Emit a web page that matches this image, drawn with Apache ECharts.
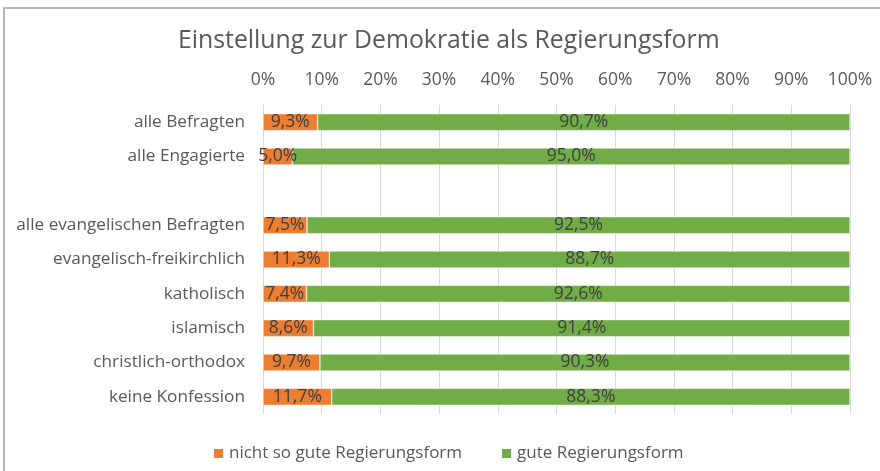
<!DOCTYPE html>
<html><head><meta charset="utf-8">
<script src="https://cdn.jsdelivr.net/npm/echarts@6/dist/echarts.min.js"></script>
<style>html,body{margin:0;padding:0;background:#fff}#c{width:880px;height:471px}</style>
</head><body><div id="c"></div>
<script>
const categories = ["alle Befragten","alle Engagierte","","alle evangelischen Befragten","evangelisch-freikirchlich","katholisch","islamisch","christlich-orthodox","keine Konfession"];
const nichtSoGut = [9.3, 5.0, null, 7.5, 11.3, 7.4, 8.6, 9.7, 11.7];
const gut = [90.7, 95.0, null, 92.5, 88.7, 92.6, 91.4, 90.3, 88.3];
const seriesNames = ["nicht so gute Regierungsform","gute Regierungsform"];
const titleText = "Einstellung zur Demokratie als Regierungsform";

const FONT = "'Open Sans', 'Noto Sans', sans-serif";
const chart = echarts.init(document.getElementById('c'));
const fmt = p => p.value == null ? '' : p.value.toFixed(1).replace('.', ',') + '%';
const lbl = {show:true, position:'inside', formatter: fmt, color:'#404040', fontSize:17.5, fontFamily:FONT};
chart.setOption({
  animation:false,
  title:{text:titleText, left:173, top:23, textStyle:{fontFamily:FONT, fontSize:24.8, fontWeight:'normal', color:'#595959'}},
  graphic:[{type:'polyline', shape:{points:[[4,471],[4,8],[880,8]]}, style:{stroke:'#a0a0a0', lineWidth:1.5, fill:null}}],
  legend:{bottom:4, left:207, itemWidth:11, itemHeight:11, itemGap:38, icon:'rect',
    textStyle:{fontFamily:FONT, fontSize:17, color:'#595959'}, data:seriesNames},
  grid:{left:263, right:30, top:105, height:309},
  xAxis:{type:'value', position:'top', min:0, max:100, interval:10,
    axisLabel:{formatter:'{value}%', color:'#595959', fontSize:17.5, fontFamily:FONT, margin:16},
    axisLine:{show:false}, axisTick:{show:false},
    splitLine:{lineStyle:{color:'#d9d9d9', width:1}}},
  yAxis:{type:'category', inverse:true, data:categories,
    axisLine:{show:true, lineStyle:{color:'#d9d9d9'}}, axisTick:{show:false},
    axisLabel:{color:'#595959', fontSize:17.2, fontFamily:FONT, margin:18}},
  series:[
    {name:seriesNames[0], type:'bar', stack:'a', data:nichtSoGut, barWidth:17,
     itemStyle:{color:'#ED7D31', borderColor:'#fff', borderWidth:0.5}, label:lbl},
    {name:seriesNames[1], type:'bar', stack:'a', data:gut, barWidth:17,
     itemStyle:{color:'#70AD47', borderColor:'#fff', borderWidth:0.5}, label:lbl}
  ]
});
</script></body></html>
